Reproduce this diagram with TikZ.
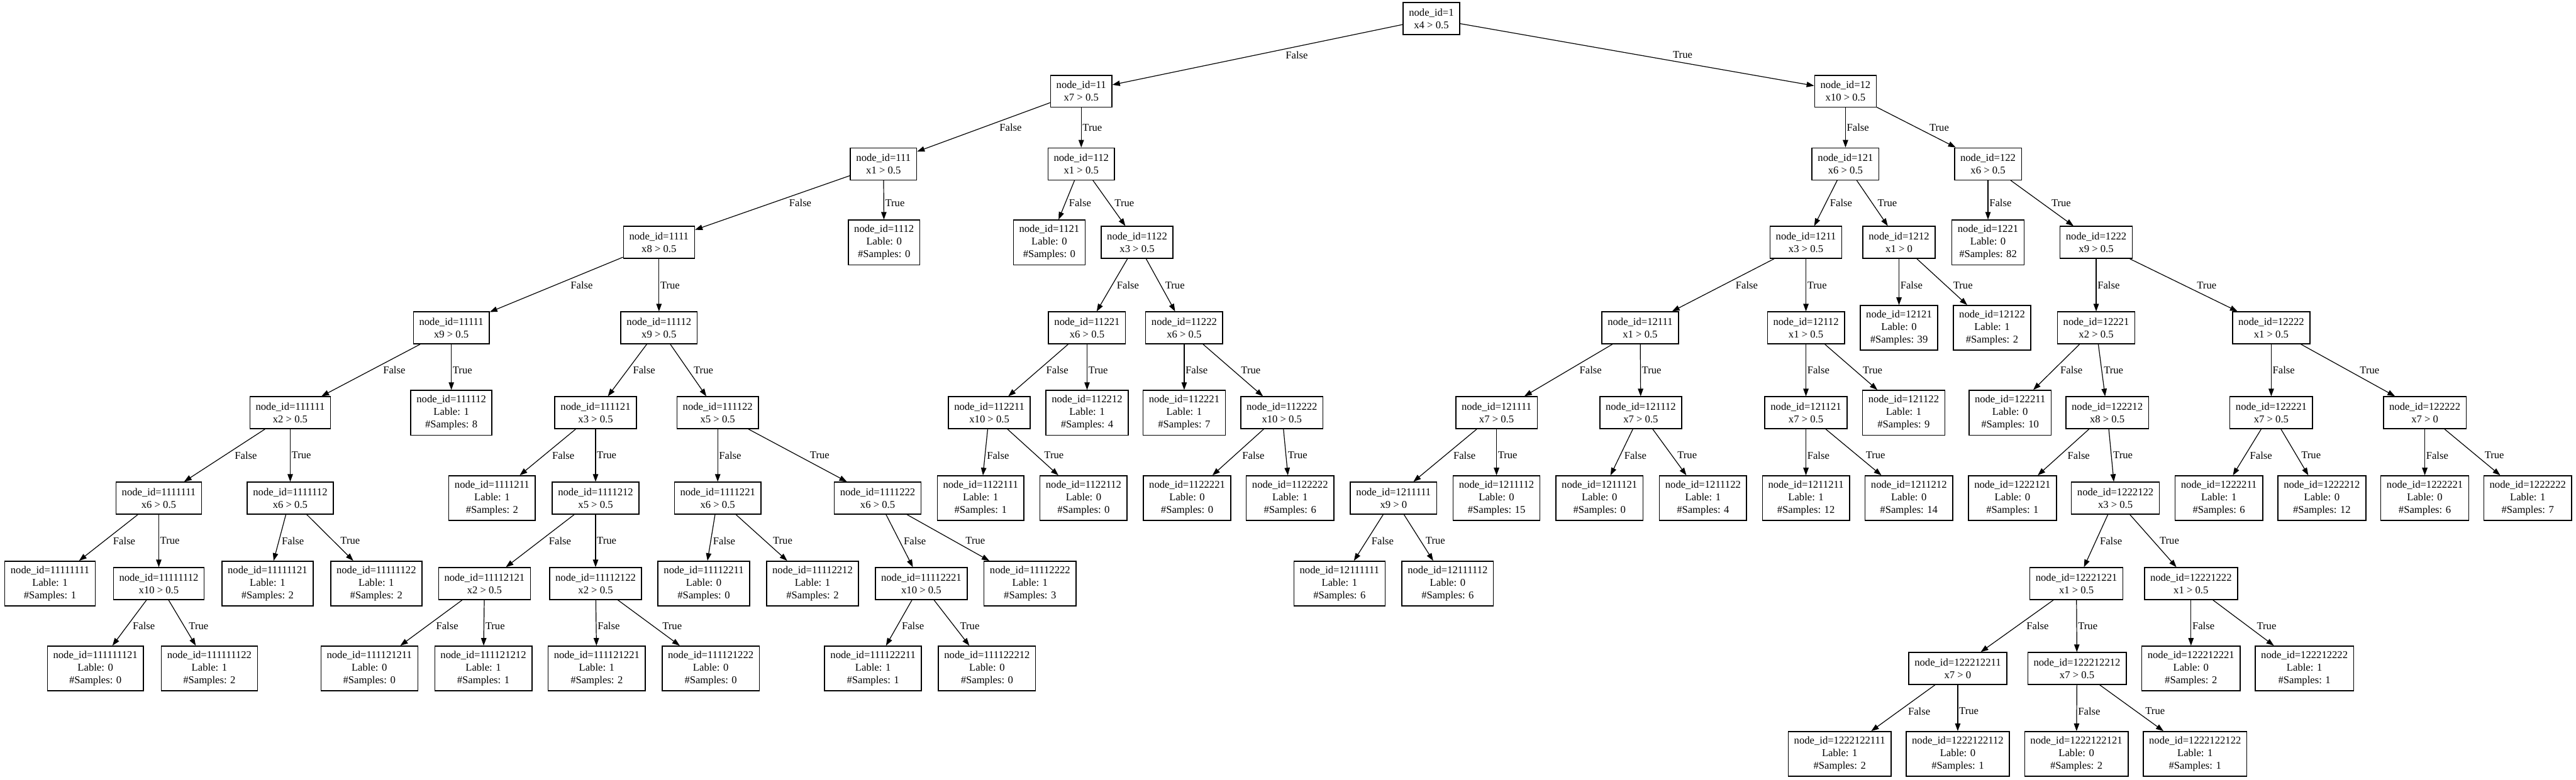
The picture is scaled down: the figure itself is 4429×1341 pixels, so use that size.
\documentclass[tikz,border=0pt]{standalone}
\usepackage{fontspec}
\setmainfont{Liberation Serif}
\usetikzlibrary{arrows.meta,calc}
\tikzset{
  box/.style={draw, line width=0.8pt, rectangle, align=center, inner xsep=5pt, inner ysep=2pt,
    font=\fontsize{9}{10.8}\selectfont, minimum width=34.5pt},
  split/.style={box, minimum height=27.5pt},
  leaf/.style={box, minimum height=38.5pt},
  edge/.style={line width=0.65pt, -{Triangle[length=6.5pt,width=4.6pt]}},
  elabel/.style={anchor=west, inner sep=0pt, font=\fontsize{9}{10.8}\selectfont},
}
\newcommand\snode[4]{\node[split] (n#1) at (#2,#3) {node\_id=#1\\#4};}
\newcommand\lnode[5]{\node[leaf] (n#1) at (#2,#3) {node\_id=#1\\Lable: #4\\\#Samples: #5};}
\newcommand\tedge[3]{%
  \draw[edge] (n#1) -- (n#2);
  \path let \p1=(n#1.center), \p2=(n#2.center),
    \n1={5*abs(\x2-\x1)/max(abs(\y2-\y1),1pt)} in
    node[elabel] at ({(\x1+\x2)/2+\n1*1pt+1pt},{(\y1+\y2)/2}) {#3};%
}
\begin{document}
\begin{tikzpicture}[x=0.5pt,y=-0.5pt]
\fill[white] (0,0) rectangle (4429,1341);
\useasboundingbox (0,0) rectangle (4429,1341);
% level 0-2
\snode{1}{2461}{32}{x4 > 0.5}
\snode{11}{1859}{157}{x7 > 0.5}
\snode{12}{3173}{157}{x10 > 0.5}
\snode{111}{1519}{282}{x1 > 0.5}
\snode{112}{1859}{282}{x1 > 0.5}
\snode{121}{3173}{282}{x6 > 0.5}
\snode{122}{3418}{282}{x6 > 0.5}
% level 3
\snode{1111}{1133}{417}{x8 > 0.5}
\lnode{1112}{1520}{417}{0}{0}
\lnode{1121}{1804}{417}{0}{0}
\snode{1122}{1955}{417}{x3 > 0.5}
\snode{1211}{3105}{417}{x3 > 0.5}
\snode{1212}{3265}{417}{x1 > 0}
\lnode{1221}{3418}{417}{0}{82}
\snode{1222}{3604}{417}{x9 > 0.5}
% level 4
\snode{11111}{776}{564}{x9 > 0.5}
\snode{11112}{1133}{564}{x9 > 0.5}
\snode{11221}{1869}{564}{x6 > 0.5}
\snode{11222}{2036}{564}{x6 > 0.5}
\snode{12111}{2820}{564}{x1 > 0.5}
\snode{12112}{3105}{564}{x1 > 0.5}
\lnode{12121}{3265}{564}{0}{39}
\lnode{12122}{3425}{564}{1}{2}
\snode{12221}{3604}{564}{x2 > 0.5}
\snode{12222}{3905}{564}{x1 > 0.5}
% level 5
\snode{111111}{499}{710}{x2 > 0.5}
\lnode{111112}{776}{710}{1}{8}
\snode{111121}{1024}{710}{x3 > 0.5}
\snode{111122}{1234}{710}{x5 > 0.5}
\snode{112211}{1701}{710}{x10 > 0.5}
\lnode{112212}{1869}{710}{1}{4}
\lnode{112221}{2036}{710}{1}{7}
\snode{112222}{2204}{710}{x10 > 0.5}
\snode{121111}{2573}{710}{x7 > 0.5}
\snode{121112}{2821}{710}{x7 > 0.5}
\snode{121121}{3105}{710}{x7 > 0.5}
\lnode{121122}{3273}{710}{1}{9}
\lnode{122211}{3456}{710}{0}{10}
\snode{122212}{3623}{710}{x8 > 0.5}
\snode{122221}{3905}{710}{x7 > 0.5}
\snode{122222}{4169}{710}{x7 > 0}
% level 6
\snode{1111111}{273}{857}{x6 > 0.5}
\snode{1111112}{499}{857}{x6 > 0.5}
\lnode{1111211}{846}{857}{1}{2}
\snode{1111212}{1024}{857}{x5 > 0.5}
\snode{1111221}{1234}{857}{x6 > 0.5}
\snode{1111222}{1509}{857}{x6 > 0.5}
\lnode{1122111}{1686}{857}{1}{1}
\lnode{1122112}{1863}{857}{0}{0}
\lnode{1122221}{2041}{857}{0}{0}
\lnode{1122222}{2218}{857}{1}{6}
\snode{1211111}{2396}{857}{x9 > 0}
\lnode{1211112}{2573}{857}{0}{15}
\lnode{1211121}{2750}{857}{0}{0}
\lnode{1211122}{2928}{857}{1}{4}
\lnode{1211211}{3105}{857}{1}{12}
\lnode{1211212}{3282}{857}{0}{14}
\lnode{1222121}{3460}{857}{0}{1}
\snode{1222122}{3637}{857}{x3 > 0.5}
\lnode{1222211}{3815}{857}{1}{6}
\lnode{1222212}{3992}{857}{0}{12}
\lnode{1222221}{4169}{857}{0}{6}
\lnode{1222222}{4346}{857}{1}{7}
% level 7
\lnode{11111111}{86}{1004}{1}{1}
\snode{11111112}{273}{1004}{x10 > 0.5}
\lnode{11111121}{460}{1004}{1}{2}
\lnode{11111122}{647}{1004}{1}{2}
\snode{11112121}{833}{1004}{x2 > 0.5}
\snode{11112122}{1024}{1004}{x2 > 0.5}
\lnode{11112211}{1210}{1004}{0}{0}
\lnode{11112212}{1397}{1004}{1}{2}
\snode{11112221}{1584}{1004}{x10 > 0.5}
\lnode{11112222}{1771}{1004}{1}{3}
\lnode{12111111}{2303}{1004}{1}{6}
\lnode{12111112}{2489}{1004}{0}{6}
\snode{12221221}{3570}{1004}{x1 > 0.5}
\snode{12221222}{3767}{1004}{x1 > 0.5}
% level 8
\lnode{111111121}{164}{1150}{0}{0}
\lnode{111111122}{360}{1150}{1}{2}
\lnode{111121211}{635}{1150}{0}{0}
\lnode{111121212}{831}{1150}{1}{1}
\lnode{111121221}{1026}{1150}{1}{2}
\lnode{111121222}{1222}{1150}{0}{0}
\lnode{111122211}{1501}{1150}{1}{1}
\lnode{111122212}{1697}{1150}{0}{0}
\snode{122212211}{3366}{1150}{x7 > 0}
\snode{122212212}{3571}{1150}{x7 > 0.5}
\lnode{122212221}{3767}{1150}{0}{2}
\lnode{122212222}{3962}{1150}{1}{1}
% level 9
\lnode{1222122111}{3163}{1297}{1}{2}
\lnode{1222122112}{3366}{1297}{0}{1}
\lnode{1222122121}{3570}{1297}{0}{2}
\lnode{1222122122}{3774}{1297}{1}{1}
% edges
\tedge{1}{11}{False} \tedge{1}{12}{True}
\tedge{11}{111}{False} \tedge{11}{112}{True}
\tedge{12}{121}{False} \tedge{12}{122}{True}
\tedge{111}{1111}{False} \tedge{111}{1112}{True}
\tedge{112}{1121}{False} \tedge{112}{1122}{True}
\tedge{121}{1211}{False} \tedge{121}{1212}{True}
\tedge{122}{1221}{False} \tedge{122}{1222}{True}
\tedge{1111}{11111}{False} \tedge{1111}{11112}{True}
\tedge{1122}{11221}{False} \tedge{1122}{11222}{True}
\tedge{1211}{12111}{False} \tedge{1211}{12112}{True}
\tedge{1212}{12121}{False} \tedge{1212}{12122}{True}
\tedge{1222}{12221}{False} \tedge{1222}{12222}{True}
\tedge{11111}{111111}{False} \tedge{11111}{111112}{True}
\tedge{11112}{111121}{False} \tedge{11112}{111122}{True}
\tedge{11221}{112211}{False} \tedge{11221}{112212}{True}
\tedge{11222}{112221}{False} \tedge{11222}{112222}{True}
\tedge{12111}{121111}{False} \tedge{12111}{121112}{True}
\tedge{12112}{121121}{False} \tedge{12112}{121122}{True}
\tedge{12221}{122211}{False} \tedge{12221}{122212}{True}
\tedge{12222}{122221}{False} \tedge{12222}{122222}{True}
\tedge{111111}{1111111}{False} \tedge{111111}{1111112}{True}
\tedge{111121}{1111211}{False} \tedge{111121}{1111212}{True}
\tedge{111122}{1111221}{False} \tedge{111122}{1111222}{True}
\tedge{112211}{1122111}{False} \tedge{112211}{1122112}{True}
\tedge{112222}{1122221}{False} \tedge{112222}{1122222}{True}
\tedge{121111}{1211111}{False} \tedge{121111}{1211112}{True}
\tedge{121112}{1211121}{False} \tedge{121112}{1211122}{True}
\tedge{121121}{1211211}{False} \tedge{121121}{1211212}{True}
\tedge{122212}{1222121}{False} \tedge{122212}{1222122}{True}
\tedge{122221}{1222211}{False} \tedge{122221}{1222212}{True}
\tedge{122222}{1222221}{False} \tedge{122222}{1222222}{True}
\tedge{1111111}{11111111}{False} \tedge{1111111}{11111112}{True}
\tedge{1111112}{11111121}{False} \tedge{1111112}{11111122}{True}
\tedge{1111212}{11112121}{False} \tedge{1111212}{11112122}{True}
\tedge{1111221}{11112211}{False} \tedge{1111221}{11112212}{True}
\tedge{1111222}{11112221}{False} \tedge{1111222}{11112222}{True}
\tedge{1211111}{12111111}{False} \tedge{1211111}{12111112}{True}
\tedge{1222122}{12221221}{False} \tedge{1222122}{12221222}{True}
\tedge{11111112}{111111121}{False} \tedge{11111112}{111111122}{True}
\tedge{11112121}{111121211}{False} \tedge{11112121}{111121212}{True}
\tedge{11112122}{111121221}{False} \tedge{11112122}{111121222}{True}
\tedge{11112221}{111122211}{False} \tedge{11112221}{111122212}{True}
\tedge{12221221}{122212211}{False} \tedge{12221221}{122212212}{True}
\tedge{12221222}{122212221}{False} \tedge{12221222}{122212222}{True}
\tedge{122212211}{1222122111}{False} \tedge{122212211}{1222122112}{True}
\tedge{122212212}{1222122121}{False} \tedge{122212212}{1222122122}{True}
\end{tikzpicture}
\end{document}
